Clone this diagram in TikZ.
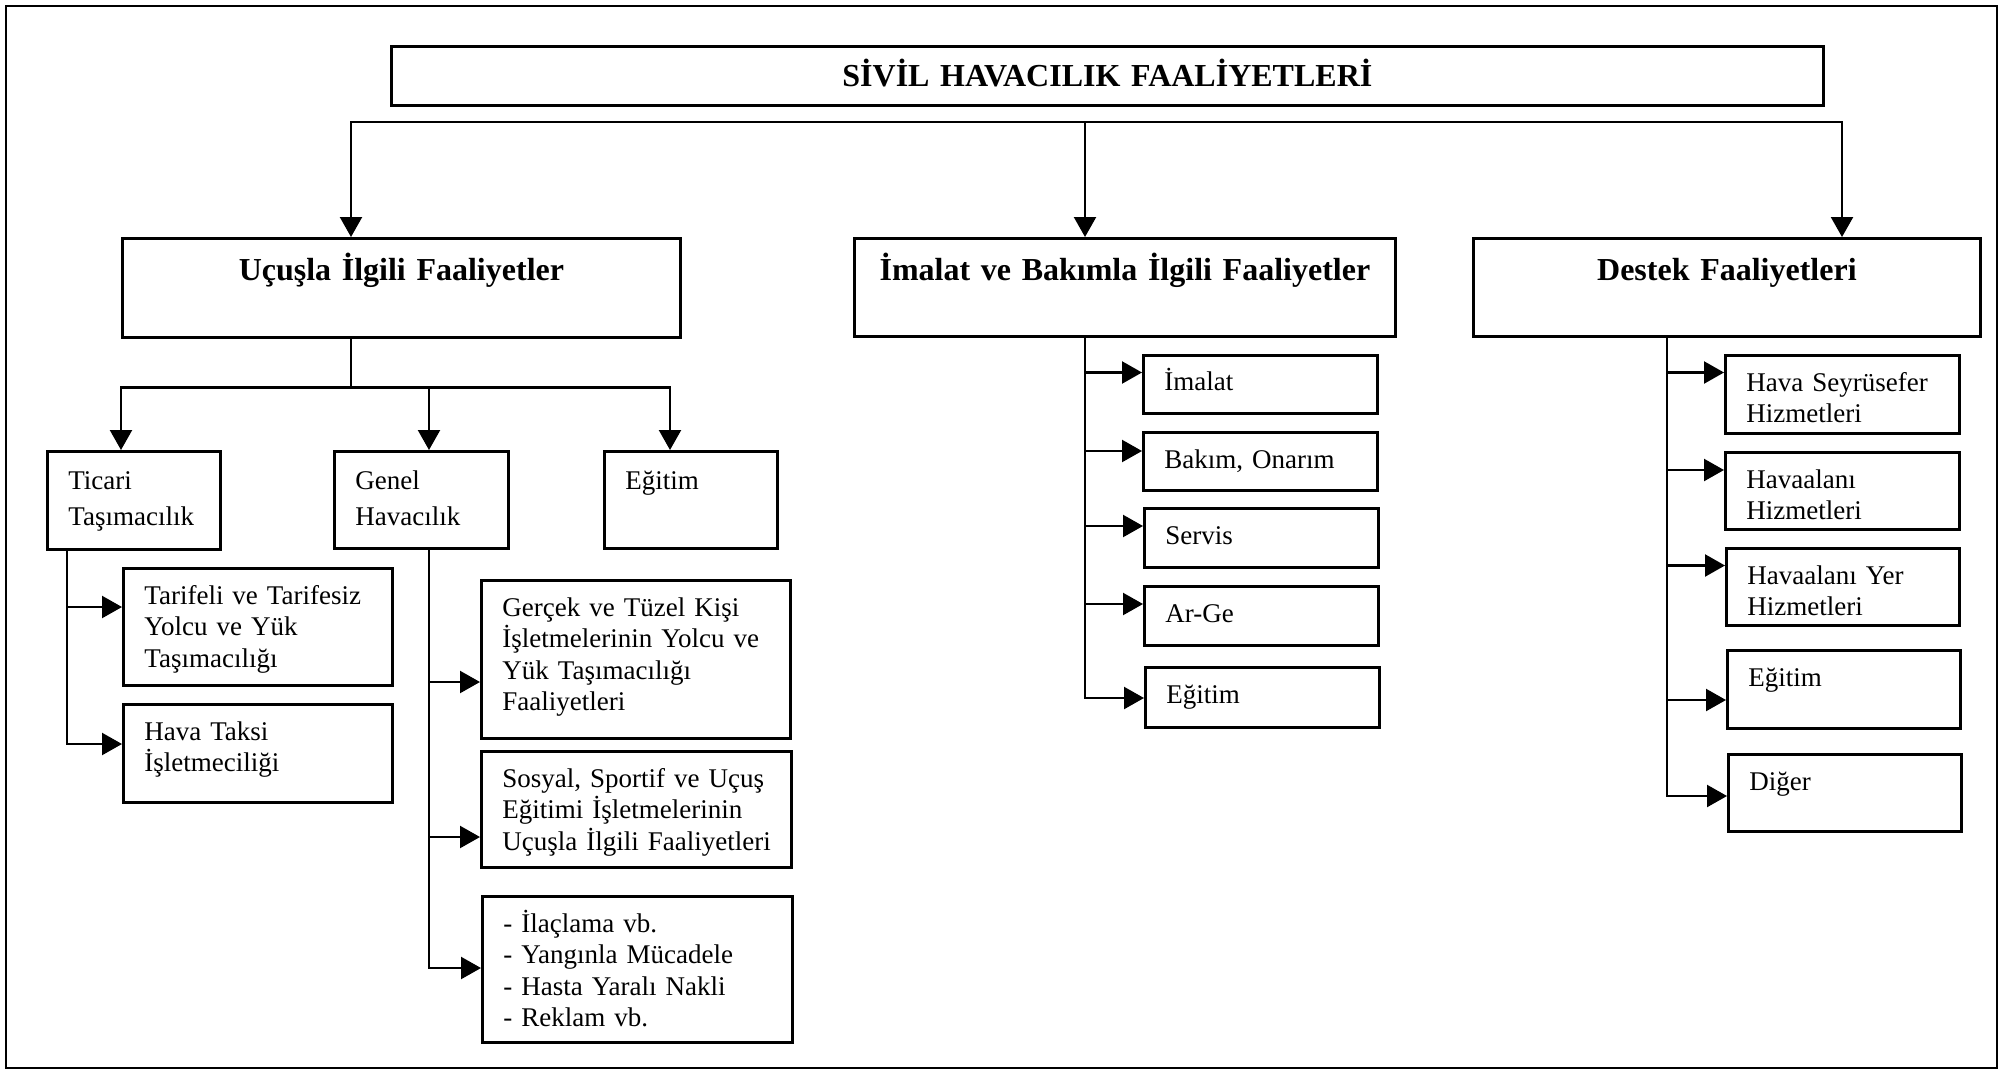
\documentclass[tikz,border=0pt]{standalone}
\usepackage{fontspec}
\setmainfont{Liberation Serif}
\usetikzlibrary{arrows.meta}

\tikzset{
  frame/.style={line width=2.5pt},
  box/.style={draw, line width=2.8pt, inner sep=0pt, anchor=north west,
    align=left, font=\fontsize{27}{31.5}\selectfont},
  lead/.style={font=\fontsize{27}{36}\selectfont},
  head/.style={draw, line width=2.8pt, inner sep=0pt, anchor=north west,
    align=center, font=\bfseries\fontsize{32}{38}\selectfont},
  conn/.style={line width=2.3pt},
  arr/.style={conn, -{Triangle[length=20pt,width=22pt]}},
}

% left indent of the text inside the small boxes
\newcommand\boxindent{\leftskip=21pt\relax}

% #1 style, #2 name, #3 left, #4 top, #5 right, #6 bottom,
% #7 first baseline below the top edge, #8 text
\newcommand\mkbox[8]{%
  \pgfmathsetmacro\bxW{#5-#3}%
  \pgfmathsetmacro\bxD{#6-#4-#7}%
  \node[#1, text width=\bxW pt, text height=#7pt, text depth=\bxD pt] (#2) at (#3,#4)
    {\frenchspacing #8\par};
}

\begin{document}
\begin{tikzpicture}[x=1pt,y=-1pt]
\useasboundingbox (0,0) rectangle (2005,1071);
\draw[frame] (6,6) rectangle (1997,1068);

% headings
\mkbox{head}{root}{390}{45}{1822}{104}{40}{SİVİL HAVACILIK FAALİYETLERİ}
\mkbox{head}{ucus}{121}{237}{679}{336}{42}{Uçuşla İlgili Faaliyetler}
\mkbox{head}{imal}{853}{237}{1394}{335}{42}{İmalat ve Bakımla İlgili Faaliyetler}
\mkbox{head}{destek}{1472}{237}{1979}{335}{42}{Destek Faaliyetleri}

% flight related activities
\mkbox{box,lead}{ticari}{46}{450}{219}{548}{38}{\boxindent Ticari\\Taşımacılık}
\mkbox{box,lead}{genel}{333}{450}{507}{547}{38}{\boxindent Genel\\Havacılık}
\mkbox{box}{egitimA}{603}{450}{776}{547}{38}{\boxindent Eğitim}

\mkbox{box}{tarif}{122}{567}{391}{684}{36}{\boxindent Tarifeli ve Tarifesiz\\Yolcu ve Yük\\Taşımacılığı}
\mkbox{box}{taksi}{122}{703}{391}{801}{36}{\boxindent Hava Taksi\\İşletmeciliği}

\mkbox{box}{gercek}{480}{579}{789}{737}{36}{\boxindent Gerçek ve Tüzel Kişi\\İşletmelerinin Yolcu ve\\Yük Taşımacılığı\\Faaliyetleri}
\mkbox{box}{sosyal}{480}{750}{790}{866}{36}{\boxindent Sosyal, Sportif ve Uçuş\\Eğitimi İşletmelerinin\\Uçuşla İlgili Faaliyetleri}
\mkbox{box}{ilac}{481}{895}{791}{1041}{36}{\boxindent - İlaçlama vb.\\- Yangınla Mücadele\\- Hasta Yaralı Nakli\\- Reklam vb.}

% manufacturing and maintenance
\mkbox{box}{imalat}{1142}{354}{1376}{412}{35}{\boxindent İmalat}
\mkbox{box}{bakim}{1142}{431}{1376}{489}{36}{\boxindent Bakım, Onarım}
\mkbox{box}{servis}{1143}{507}{1377}{566}{36}{\boxindent Servis}
\mkbox{box}{arge}{1143}{585}{1377}{644}{36}{\boxindent Ar-Ge}
\mkbox{box}{egitimB}{1144}{666}{1378}{726}{36}{\boxindent Eğitim}

% support activities
\mkbox{box}{seyr}{1724}{354}{1958}{432}{36}{\boxindent Hava Seyrüsefer\\Hizmetleri}
\mkbox{box}{hvl}{1724}{451}{1958}{528}{36}{\boxindent Havaalanı\\Hizmetleri}
\mkbox{box}{yer}{1725}{547}{1958}{624}{36}{\boxindent Havaalanı Yer\\Hizmetleri}
\mkbox{box}{egitimC}{1726}{649}{1959}{727}{36}{\boxindent Eğitim}
\mkbox{box}{diger}{1727}{753}{1960}{830}{36}{\boxindent Diğer}

% top distribution line
\coordinate (bL) at (351,122);
\coordinate (bM) at (1085,122);
\coordinate (bR) at (1842,122);
\draw[arr] (bM) -- (bL) -- (bL |- ucus.north);
\draw[arr] (bM) -- (bR) -- (bR |- destek.north);
\draw[arr] (bM) -- (bM |- imal.north);

% flight related branch
\coordinate (uj) at (351,387.5);
\coordinate (uL) at (121,387.5);
\coordinate (uG) at (429,387.5);
\coordinate (uR) at (670,387.5);
\draw[conn] (ucus.south -| uj) -- (uj);
\draw[arr] (uj) -- (uL) -- (uL |- ticari.north);
\draw[arr] (uj) -- (uR) -- (uR |- egitimA.north);
\draw[arr] (uG) -- (uG |- genel.north);

% commercial transport
\coordinate (t1) at (67,607);
\coordinate (t2) at (67,744);
\draw[arr] (ticari.south -| t2) -- (t2) -- (t2 -| taksi.west);
\draw[arr] (t1) -- (t1 -| tarif.west);

% general aviation
\coordinate (g1) at (429,682);
\coordinate (g2) at (429,837);
\coordinate (g3) at (429,968);
\draw[arr] (genel.south -| g3) -- (g3) -- (g3 -| ilac.west);
\draw[arr] (g1) -- (g1 -| gercek.west);
\draw[arr] (g2) -- (g2 -| sosyal.west);

% manufacturing and maintenance branch
\coordinate (m1) at (1085,372.5);
\coordinate (m2) at (1085,451);
\coordinate (m3) at (1085,526);
\coordinate (m4) at (1085,604);
\coordinate (m5) at (1085,698);
\draw[arr] (imal.south -| m5) -- (m5) -- (m5 -| egitimB.west);
\draw[arr] (m1) -- (m1 -| imalat.west);
\draw[arr] (m2) -- (m2 -| bakim.west);
\draw[arr] (m3) -- (m3 -| servis.west);
\draw[arr] (m4) -- (m4 -| arge.west);

% support branch
\coordinate (d1) at (1667,372.5);
\coordinate (d2) at (1667,470);
\coordinate (d3) at (1667,565.5);
\coordinate (d4) at (1667,700);
\coordinate (d5) at (1667,796);
\draw[arr] (destek.south -| d5) -- (d5) -- (d5 -| diger.west);
\draw[arr] (d1) -- (d1 -| seyr.west);
\draw[arr] (d2) -- (d2 -| hvl.west);
\draw[arr] (d3) -- (d3 -| yer.west);
\draw[arr] (d4) -- (d4 -| egitimC.west);
\end{tikzpicture}
\end{document}
